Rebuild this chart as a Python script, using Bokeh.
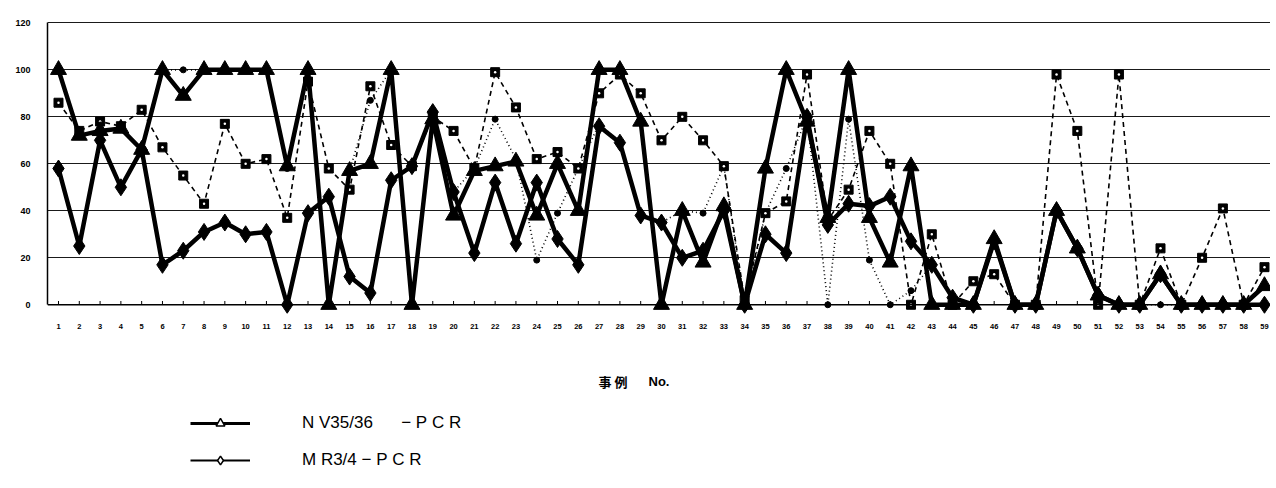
from bokeh.plotting import figure
from bokeh.layouts import column
from bokeh.models import Range1d, FixedTicker, Label, Legend, LegendItem, Span
from bokeh.embed import file_html
from bokeh.resources import INLINE

# ---- data ----
cases = list(range(1, 60))
nv_pcr = [100, 72, 74, 75, 66, 100, 89, 100, 100, 100,
          100, 59, 100, 0, 57, 60, 100, 0, 79, 38,
          57, 59, 61, 38, 60, 40, 100, 100, 78, 0,
          40, 18, 42, 0, 58, 100, 78, 37, 100, 37,
          18, 59, 0, 0, 0, 28, 0, 0, 40, 24,
          4, 0, 0, 13, 0, 0, 0, 0, 8]
mr_pcr = [58, 25, 70, 50, 66, 17, 23, 31, 35, 30,
          31, 0, 39, 46, 12, 5, 53, 59, 82, 48,
          22, 52, 26, 52, 28, 17, 76, 69, 38, 35,
          20, 23, 40, 0, 30, 22, 80, 34, 43, 42,
          46, 27, 17, 3, 0, 27, 0, 0, 40, 24,
          4, 0, 0, 13, 0, 0, 0, 0, 0]
dashed_series = [86, 74, 78, 76, 83, 67, 55, 43, 77, 60,
                 62, 37, 95, 58, 49, 93, 68, 59, 80, 74,
                 58, 99, 84, 62, 65, 58, 90, 98, 90, 70,
                 80, 70, 59, 2, 39, 44, 98, 36, 49, 74,
                 60, 0, 30, 0, 10, 13, 0, 0, 98, 74,
                 0, 98, 0, 24, 0, 20, 41, 0, 16]
dotted_series = [100, 72, 74, 75, 66, 100, 100, 100, 100, 100,
                 100, 58, 100, 0, 57, 87, 100, 0, 80, 48,
                 58, 79, 62, 19, 39, 58, 77, 69, 38, 35,
                 40, 39, 59, 0, 39, 58, 80, 0, 79, 19,
                 0, 6, 17, 3, 0, 27, 0, 0, 40, 24,
                 4, 0, 0, 0, 0, 0, 0, 0, 0]
y_ticks = [0, 20, 40, 60, 80, 100, 120]
NB = "\u00a0"
legend_labels = ["N" + NB + "V35/36" + NB * 6 + "\u2212" + NB + "P" + NB + "C" + NB + "R",
                 "M" + NB + "R3/4" + NB + "\u2212" + NB + "P" + NB + "C" + NB + "R"]
x_title_jp = "事" + NB + "例"
x_title_no = "No."

FONT = "Liberation Sans"

p = figure(width=1270, height=336, output_backend="svg", toolbar_location=None,
           title=None,
           x_range=Range1d(0.471, 59.29), y_range=Range1d(-5, 121),
           min_border_left=47, min_border_right=0, min_border_top=20,
           min_border_bottom=20)
p.outline_line_color = None
p.background_fill_color = "white"

# axes
p.yaxis.ticker = FixedTicker(ticks=y_ticks)
p.yaxis.bounds = (0, 120)
p.yaxis.major_label_text_font = FONT
p.yaxis.major_label_text_font_size = "9px"
p.yaxis.major_label_text_font_style = "bold"
p.yaxis.major_label_text_color = "black"
p.yaxis.major_tick_line_color = None
p.yaxis.minor_tick_line_color = None
p.yaxis.axis_line_color = "black"
p.yaxis.axis_line_width = 1.5
p.yaxis.major_label_standoff = 11

p.xaxis.ticker = FixedTicker(ticks=cases)
p.xaxis.axis_line_color = None
p.xaxis.major_tick_line_color = None
p.xaxis.minor_tick_line_color = None
p.xaxis.major_label_text_font = FONT
p.xaxis.major_label_text_font_size = "7.5px"
p.xaxis.major_label_text_font_style = "bold"
p.xaxis.major_label_text_color = "black"
p.xaxis.major_label_standoff = 1

p.xgrid.visible = False
p.ygrid.ticker = FixedTicker(ticks=y_ticks)
p.ygrid.grid_line_color = "#1a1a1a"
p.ygrid.grid_line_width = 1.2

p.add_layout(Span(location=0, dimension="width", line_color="black", line_width=1.6))

# small tick marks on the baseline
p.segment(x0=cases, y0=[0] * len(cases), x1=cases, y1=[1.6] * len(cases),
          line_color="black", line_width=1)

# dotted series (circles)
p.line(cases, dotted_series, line_color="black", line_width=1.6, line_dash="1 3")
p.scatter(cases, dotted_series, marker="circle", size=6, fill_color="black",
          line_color="black")

# dashed series (squares)
p.line(cases, dashed_series, line_color="black", line_width=1.6, line_dash="5 4")
p.scatter(cases, dashed_series, marker="square", size=9, fill_color="black",
          line_color="black")
p.scatter(cases, dashed_series, marker="circle", size=2.5, fill_color="white",
          line_color=None)

# MR3/4-PCR (diamonds)
p.line(cases, mr_pcr, line_color="black", line_width=4.5)
p.scatter(cases, mr_pcr, marker="diamond", size=17, fill_color="black",
          line_color="black")

# NV35/36-PCR (triangles)
p.line(cases, nv_pcr, line_color="black", line_width=4.5)
p.scatter(cases, nv_pcr, marker="triangle", size=16, fill_color="black",
          line_color="black")

# ---- lower panel: x title and legend ----
p2 = figure(width=1270, height=144, output_backend="svg", toolbar_location=None,
            title=None, x_range=Range1d(0, 1), y_range=Range1d(0, 1),
            min_border_left=0, min_border_right=0, min_border_top=0,
            min_border_bottom=0)
p2.axis.visible = False
p2.grid.visible = False
p2.outline_line_color = None

nan = [float("nan")]
l1 = p2.line(nan, nan, line_color="black", line_width=3)
s1 = p2.scatter(nan, nan, marker="triangle", size=9, fill_color="white",
                line_color="black", line_width=1.5)
l2 = p2.line(nan, nan, line_color="black", line_width=2.2)
s2 = p2.scatter(nan, nan, marker="diamond", size=9, fill_color="white",
                line_color="black", line_width=1.5)

legend = Legend(items=[LegendItem(label=legend_labels[0], renderers=[l1, s1]),
                       LegendItem(label=legend_labels[1], renderers=[l2, s2])],
                location=(143, 9))
legend.glyph_width = 60
legend.glyph_height = 22
legend.label_height = 22
legend.spacing = 15
legend.padding = 0
legend.margin = 0
legend.border_line_color = None
legend.background_fill_alpha = 0
legend.label_standoff = 52
legend.label_text_font = FONT
legend.label_text_font_size = "17px"
legend.label_text_color = "black"
p2.add_layout(legend)

p2.add_layout(Label(x=551, y=99, x_units="screen", y_units="screen",
                    text=x_title_jp, text_font="Noto Sans CJK JP",
                    text_font_size="13px", text_font_style="bold",
                    text_baseline="middle", text_color="black"))
p2.add_layout(Label(x=601, y=99, x_units="screen", y_units="screen",
                    text=x_title_no, text_font=FONT,
                    text_font_size="13px", text_font_style="bold",
                    text_baseline="middle", text_color="black"))

layout = column(p, p2, spacing=0)
open("out.html", "w").write(file_html(layout, INLINE))
